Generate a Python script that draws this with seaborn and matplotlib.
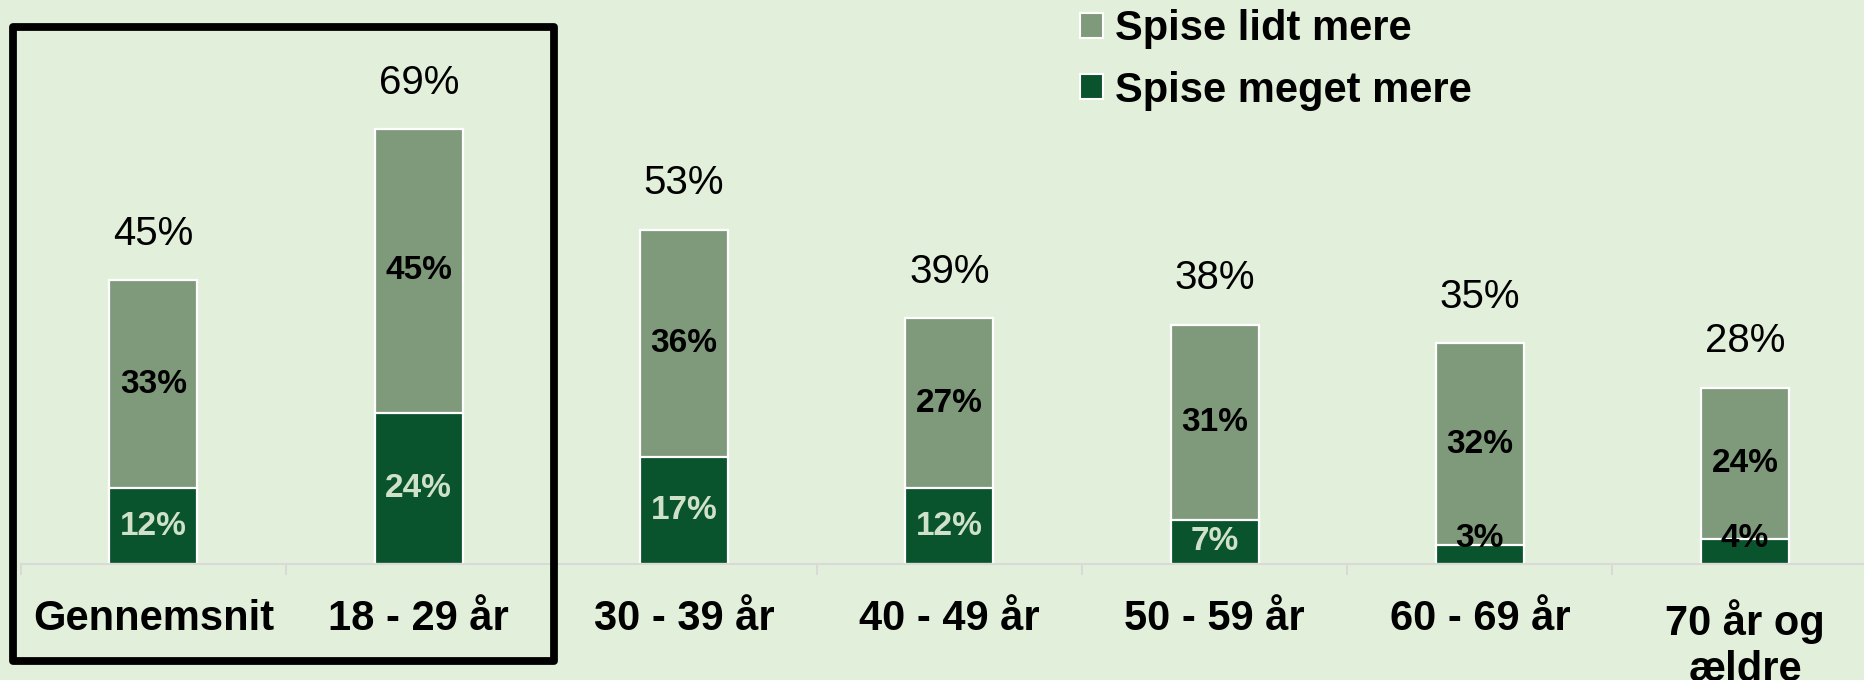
import matplotlib
matplotlib.use("Agg")
import matplotlib.pyplot as plt
import seaborn as sns
import pandas as pd
from matplotlib.patches import Patch, Rectangle
from matplotlib.ticker import FixedLocator

categories = ["Gennemsnit", "18 - 29 år", "30 - 39 år", "40 - 49 år",
              "50 - 59 år", "60 - 69 år", "70 år og\nældre"]
meget_mere = [12, 24, 17, 12, 7, 3, 4]
lidt_mere = [33, 45, 36, 27, 31, 32, 24]
total = [45, 69, 53, 39, 38, 35, 28]
series_names = ["Spise lidt mere", "Spise meget mere"]

BG = "#e2efda"
LIGHT = "#7f9a7a"
DARK = "#0a542d"
PALE = "#cfe2c9"

sns.set_theme(style="white")
plt.rcParams["font.family"] = ["Liberation Sans", "DejaVu Sans"]
plt.rcParams["text.color"] = "black"

df = pd.DataFrame({"cat": categories, "meget": meget_mere,
                   "lidt": lidt_mere, "total": total})

fig = plt.figure(figsize=(18.65, 6.8), dpi=100, facecolor=BG)
ax = fig.add_axes([20.8 / 1865, 1 - 564 / 680, 1 - 20.8 / 1865, 564 / 680])
ax.set_facecolor(BG)

sns.barplot(data=df, x="cat", y="total", color=LIGHT, saturation=1,
            width=0.332, edgecolor="white", linewidth=1.6, ax=ax)
sns.barplot(data=df, x="cat", y="meget", color=DARK, saturation=1,
            width=0.332, edgecolor="white", linewidth=1.6, ax=ax)

ax.set_xlim(-0.5, 6.452)
ax.set_ylim(0, 89.5)
ax.set_xlabel("")
ax.set_ylabel("")
ax.set_yticks([])
for s in ["top", "right", "left"]:
    ax.spines[s].set_visible(False)
ax.spines["bottom"].set_color("#d9d9d9")
ax.spines["bottom"].set_linewidth(1.5)

ax.set_xticks(range(len(categories)))
ax.set_xticklabels(categories, fontsize=30, fontweight="bold", color="black",
                   linespacing=1.2)
ax.tick_params(axis="x", which="major", length=0, pad=25)
ax.xaxis.set_minor_locator(FixedLocator([i - 0.5 for i in range(len(categories) + 1)]))
ax.tick_params(axis="x", which="minor", length=8, width=1.5, color="#d9d9d9",
               direction="out", bottom=True)

for i in range(len(categories)):
    m, l, t = meget_mere[i], lidt_mere[i], total[i]
    ax.text(i, t + 7.4, f"{t}%", ha="center", va="center", fontsize=29,
            color="black")
    ax.text(i, m + l / 2, f"{l}%", ha="center", va="center", fontsize=24,
            fontweight="bold", color="black")
    if m >= 5:
        ax.text(i, m / 2, f"{m}%", ha="center", va="center", fontsize=24,
                fontweight="bold", color=PALE)
    else:
        ax.text(i, 4.0, f"{m}%", ha="center", va="center", fontsize=24,
                fontweight="bold", color="black")

handles = [Patch(facecolor=LIGHT, edgecolor="white", linewidth=1.5),
           Patch(facecolor=DARK, edgecolor="white", linewidth=1.5)]
leg = fig.legend(handles, series_names, loc="upper left",
                 bbox_to_anchor=(1080 / 1865, 1 - 9 / 680), frameon=False,
                 prop={"size": 30, "weight": "bold"}, handlelength=0.55,
                 handleheight=0.55, handletextpad=0.28, labelspacing=0.52,
                 borderpad=0, borderaxespad=0, labelcolor="black")

fig.patches.append(Rectangle((13.5 / 1865, 1 - 661 / 680),
                             (554 - 13.5) / 1865, (661 - 27) / 680,
                             transform=fig.transFigure, fill=False,
                             edgecolor="black", linewidth=5.6,
                             joinstyle="round"))

fig.savefig("out.png", dpi=100, facecolor=BG)
